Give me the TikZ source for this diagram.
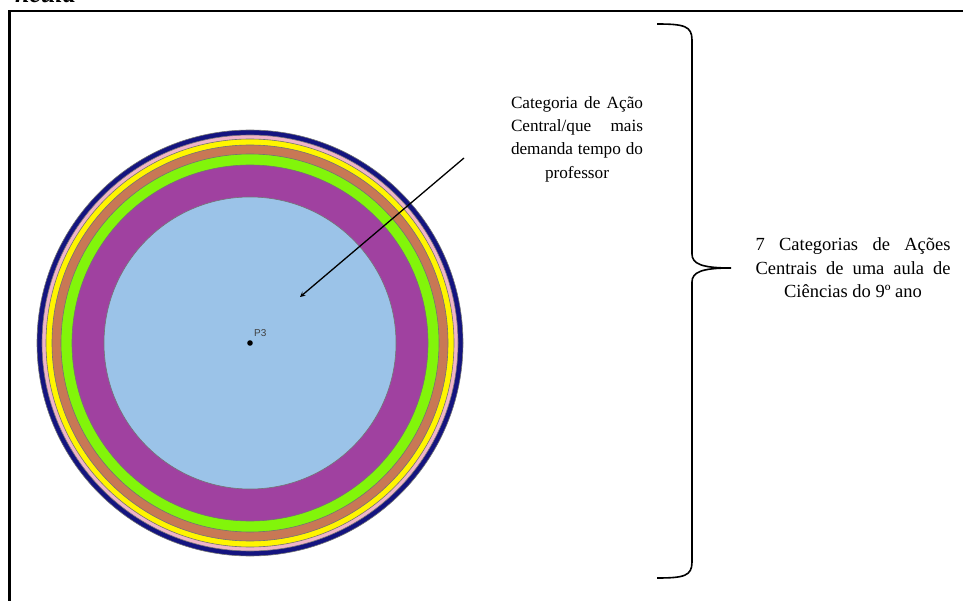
\documentclass[tikz,border=0pt]{standalone}
\usepackage{fontspec}
\setmainfont{Liberation Serif}
\newfontfamily\arialfont{Liberation Sans}
\definecolor{anil}{RGB}{20,20,128}
\definecolor{rosa}{RGB}{240,180,200}
\definecolor{amarelo}{RGB}{255,245,0}
\definecolor{marrom}{RGB}{200,120,85}
\definecolor{verde}{RGB}{130,245,10}
\definecolor{roxo}{RGB}{160,65,160}
\definecolor{azulclaro}{RGB}{155,195,232}
\newcommand{\linhaj}[2]{\makebox[#1pt][s]{#2}}
\begin{document}
\begin{tikzpicture}[
  x=1pt,y=-1pt,
  >=stealth,
  anel/.style={draw=black!55,line width=0.6pt},
  texto/.style={font=\fontsize{18.5}{23.5}\selectfont,align=center,inner sep=0pt},
  seta/.style={->,line width=1.3pt}
]
  \useasboundingbox (0,0) rectangle (963,601);
  \clip (0,0) rectangle (963,601);

  % moldura cortada
  \node[anchor=base east,inner sep=0pt,font=\fontsize{26}{26}\selectfont\bfseries\itshape] (titulo) at (76,2.5) {ncula};
  \draw[line width=2.2pt] (9.5,610) |- (970,11);

  % aneis das categorias
  \coordinate (P) at (250,343);
  \foreach \r/\c in {213/anil,208/rosa,204/amarelo,198/marrom,189/verde,178/roxo,146/azulclaro} {
    \filldraw[anel,fill=\c] (P) circle (\r pt);
  }
  \fill (P) circle (2.8pt);
  \node[font=\arialfont\fontsize{10}{10}\selectfont,text=black!75,anchor=south west,inner sep=1pt] (p3) at (253,338) {P3};

  % categoria central
  \node[texto,font=\fontsize{17.2}{23.3}\selectfont] (central) at (577,139) {\linhaj{132}{Categoria de Ação}\\\linhaj{132}{Central/que mais}\\\linhaj{132}{demanda tempo do}\\professor};
  \coordinate (inicio) at (464,158);
  \coordinate (alvo) at (300,297);
  \draw[seta] (inicio) -- (alvo);

  % chave
  \draw[line width=1.6pt] (657,24) .. controls (684,24) and (692,26) .. (692,40)
    -- (692,254) .. controls (692,264) and (702,268) .. (731,268)
    .. controls (702,268) and (692,272) .. (692,282)
    -- (692,562) .. controls (692,576) and (684,578) .. (657,578);

  \node[texto] (categorias) at (853,268) {\linhaj{195}{7 Categorias de Ações}\\\linhaj{195}{Centrais de uma aula de}\\Ciências do 9º ano};
\end{tikzpicture}
\end{document}
